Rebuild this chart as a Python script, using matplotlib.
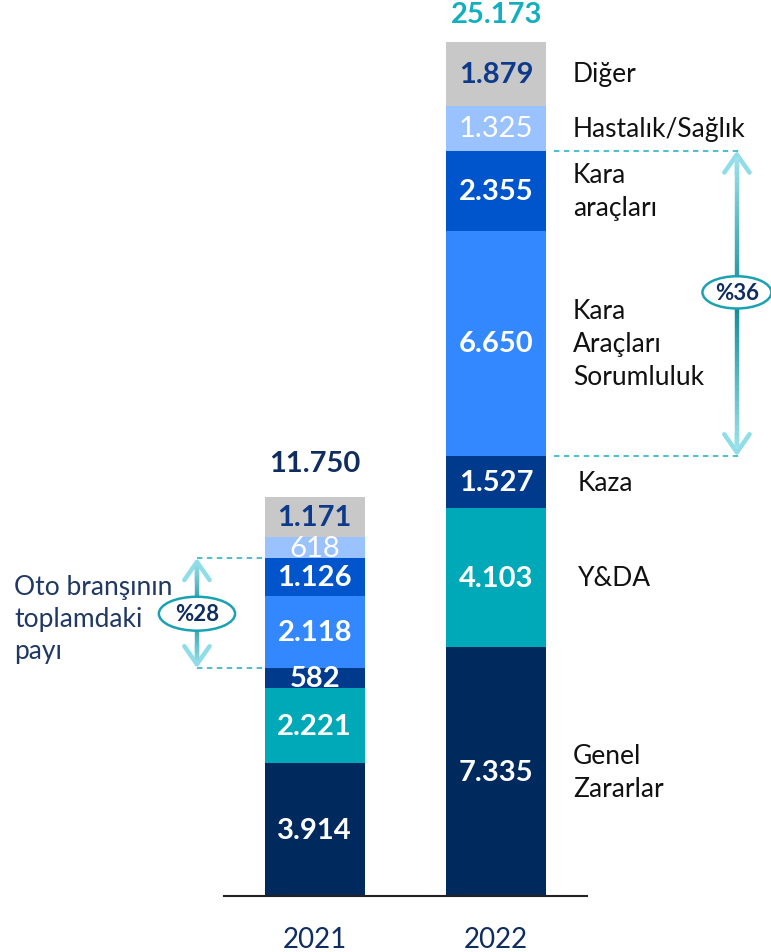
import matplotlib
matplotlib.use("Agg")
import matplotlib.pyplot as plt
import numpy as np
from matplotlib.patches import Ellipse, FancyArrowPatch
from matplotlib.collections import LineCollection

plt.rcParams['font.family'] = ['Lato', 'DejaVu Sans']

years = ["2021", "2022"]
categories = ["Genel\nZararlar", "Y&DA", "Kaza", "Kara\nAraçları\nSorumluluk",
              "Kara\naraçları", "Hastalık/Sağlık", "Diğer"]
values_2021 = [3914, 2221, 582, 2118, 1126, 618, 1171]
values_2022 = [7335, 4103, 1527, 6650, 2355, 1325, 1879]
value_labels_2021 = ["3.914", "2.221", "582", "2.118", "1.126", "618", "1.171"]
value_labels_2022 = ["7.335", "4.103", "1.527", "6.650", "2.355", "1.325", "1.879"]
totals = [11750, 25173]
total_labels = ["11.750", "25.173"]
share_labels = ["%28", "%36"]
left_note = "Oto branşının\ntoplamdaki\npayı"

colors = ["#002A5E", "#00A9B7", "#003A8C", "#3388FF", "#0055CC", "#99C2FF", "#C8C8C8"]
label_colors = ["white", "white", "white", "white", "white", "white", "#0E3A8A"]
label_weights = ["bold", "bold", "bold", "bold", "bold", "normal", "bold"]

W, H = 771, 953
fig = plt.figure(figsize=(W/100, H/100), dpi=100)
ax_left, ax_right = 224, 587
ax_bottom, ax_top = 897, 43
ax = fig.add_axes([ax_left/W, 1-ax_bottom/H, (ax_right-ax_left)/W, (ax_bottom-ax_top)/H])
ax.set_xlim(-0.5, 1.5)
ax.set_ylim(0, 25173)
for s in ["top", "right", "left"]:
    ax.spines[s].set_visible(False)
ax.spines["bottom"].set_color("#222222")
ax.spines["bottom"].set_linewidth(1.5)
ax.set_xticks([])
ax.set_yticks([])

bw = 0.551
series = [values_2021, values_2022]
labels = [value_labels_2021, value_labels_2022]
for xi, (vals, labs) in enumerate(zip(series, labels)):
    bottom = 0
    for i, v in enumerate(vals):
        ax.bar(xi, v, bottom=bottom, width=bw, color=colors[i], edgecolor="none")
        ax.text(xi, bottom + v/2, labs[i], ha="center", va="center",
                color=label_colors[i], fontsize=21, fontweight=label_weights[i])
        bottom += v

# totals
ax.text(0, totals[0] + 1000, total_labels[0], ha="center", va="center",
        fontsize=21, fontweight="bold", color="#0F2D5E", clip_on=False)
ax.text(1, totals[1] + 820, total_labels[1], ha="center", va="center",
        fontsize=21, fontweight="bold", color="#12AFBE", clip_on=False)

# year labels
for xi, y in enumerate(years):
    ax.text(xi, -1280, y, ha="center", va="center", fontsize=20,
            color="#0F2D5E", clip_on=False)

# category labels for 2022
cum = np.cumsum([0] + values_2022)
label_x = [1.423, 1.45, 1.45, 1.423, 1.423, 1.423, 1.423]
for i, c in enumerate(categories):
    ax.text(label_x[i], cum[i] + values_2022[i]/2, c, ha="left", va="center",
            fontsize=19, color="#111111", linespacing=1.4, clip_on=False)

# share arrows
def share_arrow(x, ytop, ybot, text, ell_y, ell_w, ell_h):
    n = 60
    ys = np.linspace(ybot + 200, ytop - 200, n + 1)
    mid = (ytop + ybot) / 2
    half = (ytop - ybot) / 2
    dark = np.array(matplotlib.colors.to_rgb("#0E8A98"))
    light = np.array(matplotlib.colors.to_rgb("#A6E6EF"))
    segs, cols = [], []
    for k in range(n):
        ym = (ys[k] + ys[k+1]) / 2
        t = float(np.clip(abs(ym - mid) / half, 0, 1))
        segs.append([(x, ys[k]), (x, ys[k+1])])
        cols.append(tuple(dark * (1 - t) + light * t))
    lc = LineCollection(segs, colors=cols, linewidths=3.2, clip_on=False)
    ax.add_collection(lc)
    for yt, yf in ((ytop, ytop - 700), (ybot, ybot + 700)):
        a = FancyArrowPatch((x, yf), (x, yt), arrowstyle="->,head_length=5,head_width=3.5",
                            color="#8FDDE8", lw=3.2, mutation_scale=2.6, clip_on=False,
                            shrinkA=0, shrinkB=0)
        ax.add_patch(a)
    e = Ellipse((x, ell_y), ell_w, ell_h, facecolor="white", edgecolor="#1AA2B2",
                lw=1.8, clip_on=False, zorder=5)
    ax.add_patch(e)
    ax.text(x, ell_y, text, ha="center", va="center", fontsize=16, fontweight="bold",
            color="#0F2D5E", zorder=6, clip_on=False)

def dashed(x0, x1, yy):
    ax.plot([x0, x1], [yy, yy], ls=(0, (3, 2.5)), color="#3DBACB", lw=1.3, clip_on=False)

c21 = np.cumsum([0] + values_2021)
c22 = np.cumsum([0] + values_2022)
for yy in (c21[5], c21[3]):
    dashed(-0.649, -bw/2, yy)
share_arrow(-0.649, c21[5], c21[3], share_labels[0], (897 - 615) / 0.03389, 0.42, 1000)

for yy in (c22[5], c22[3]):
    dashed(1 + bw/2 + 0.04, 2.35, yy)
share_arrow(2.326, c22[5], c22[3], share_labels[1], (897 - 294) / 0.03389, 0.38, 950)

# left note
ax.text(-1.657, (897 - 620) / 0.03389, left_note, ha="left", va="center", fontsize=19,
        color="#1F3864", linespacing=1.35, clip_on=False)

fig.savefig("out.png", dpi=100)
